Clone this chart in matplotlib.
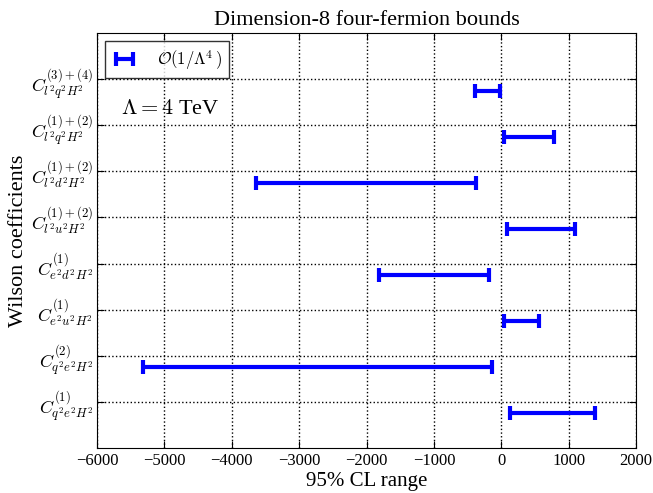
import numpy as np
import matplotlib
matplotlib.use('Agg')
import matplotlib.pyplot as plt

plt.rcParams['font.family'] = ['Liberation Serif', 'DejaVu Serif']
plt.rcParams['mathtext.fontset'] = 'cm'
plt.rcParams['xtick.direction'] = 'in'
plt.rcParams['ytick.direction'] = 'in'

# --- Dados (de baixo para cima) ---
rotulos = [
    r'$C^{(1)}_{q^2e^2H^2}$',
    r'$C^{(2)}_{q^2e^2H^2}$',
    r'$C^{(1)}_{e^2u^2H^2}$',
    r'$C^{(1)}_{e^2d^2H^2}$',
    r'$C^{(1)+(2)}_{l^2u^2H^2}$',
    r'$C^{(1)+(2)}_{l^2d^2H^2}$',
    r'$C^{(1)+(2)}_{l^2q^2H^2}$',
    r'$C^{(3)+(4)}_{l^2q^2H^2}$',
]
limite_inf = [124, -5312, 40, -1817, 89, -3643, 35, -388]
limite_sup = [1384, -133, 560, -182, 1099, -378, 778, -24]

lo = np.array(limite_inf, dtype=float)
hi = np.array(limite_sup, dtype=float)
centro = (lo + hi) / 2
meia = (hi - lo) / 2
ypos = np.arange(len(rotulos))

fig = plt.figure(figsize=(6.53, 4.93), dpi=100)
ax = fig.add_axes([0.1486, 0.0913, 0.8254, 0.8417])

ax.errorbar(centro, ypos - 0.25, xerr=meia, fmt='none', ecolor='blue',
            elinewidth=3, capsize=5, capthick=3, label=r'$\mathcal{O}(1/\Lambda^4\,)$')

ax.set_xlim(-6000, 2000)
ax.set_ylim(-1, 8)
ax.set_yticks(ypos)
ax.set_yticklabels(rotulos, fontsize=13)
ax.set_xticks(np.arange(-6000, 2001, 1000))
ax.set_xticklabels([f'{v}'.replace('-', '\u2212') for v in range(-6000, 2001, 1000)],
                   fontsize=12)
ax.tick_params(top=True, right=True, length=5)
ax.tick_params(axis='y', pad=3)
ax.grid(True, color='black', linestyle=':', linewidth=1)

ax.set_title('Dimension-8 four-fermion bounds', fontsize=16)
ax.set_xlabel('95% CL range', fontsize=15, labelpad=2)
ax.set_ylabel('Wilson coefficients', fontsize=16, labelpad=2)

ax.text(0.045, 0.805, r'$\Lambda = 4$ TeV', transform=ax.transAxes, fontsize=16)

leg = ax.legend(loc='upper left', fontsize=12, fancybox=False, handlelength=1.5,
                borderaxespad=0.5, handletextpad=1.2)
leg.get_frame().set_edgecolor('black')

fig.savefig('out.png', dpi=100)
